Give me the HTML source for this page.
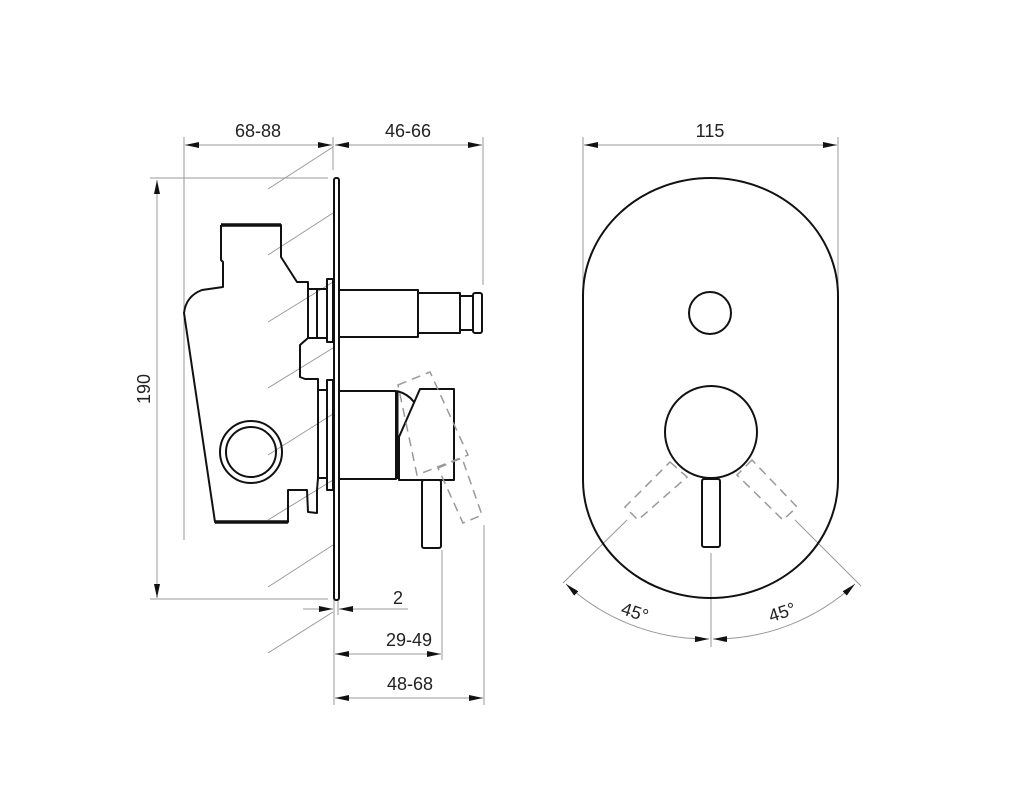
<!DOCTYPE html>
<html><head><meta charset="utf-8"><style>
html,body{margin:0;padding:0;background:#fff;}
svg{display:block;}
text{font-family:"Liberation Sans",sans-serif;font-size:18px;fill:#222;}
</style></head><body>
<svg width="1024" height="805" viewBox="0 0 1024 805" xmlns="http://www.w3.org/2000/svg">
<defs>
<marker id="a" viewBox="0 0 14 6" refX="14" refY="3" markerWidth="14" markerHeight="6" orient="auto-start-reverse" markerUnits="userSpaceOnUse"><path d="M0,0 L14,3 L0,6 Z" fill="#111"/></marker>
</defs>
<g stroke="#999" stroke-width="1" fill="none">
<line x1="184" y1="137" x2="184" y2="540"/>
<line x1="333" y1="137" x2="333" y2="170"/>
<line x1="483" y1="137" x2="483" y2="285"/>
<line x1="150" y1="178" x2="328" y2="178"/>
<line x1="150" y1="599" x2="328" y2="599"/>
<line x1="334" y1="600" x2="334" y2="705"/>
<line x1="338" y1="600" x2="338" y2="615"/>
<line x1="442" y1="550" x2="442" y2="660"/>
<line x1="484" y1="525" x2="484" y2="705"/>
<line x1="583" y1="137" x2="583" y2="290"/>
<line x1="838" y1="137" x2="838" y2="290"/>
<line x1="711" y1="553" x2="711" y2="647"/>
<line x1="627" y1="520" x2="563" y2="583"/>
<line x1="795" y1="520" x2="861" y2="586"/>
<line x1="268" y1="189" x2="333" y2="147"/>
<line x1="268" y1="255" x2="333" y2="213"/>
<line x1="268" y1="322" x2="333" y2="282"/>
<line x1="268" y1="388" x2="333" y2="348"/>
<line x1="268" y1="455" x2="333" y2="414"/>
<line x1="268" y1="520" x2="333" y2="480"/>
<line x1="268" y1="587" x2="333" y2="545"/>
<line x1="268" y1="653" x2="333" y2="612"/>
</g>
<g stroke="#999" stroke-width="1" fill="none">
<line x1="185" y1="145" x2="332" y2="145" marker-start="url(#a)" marker-end="url(#a)"/>
<line x1="335" y1="145" x2="482" y2="145" marker-start="url(#a)" marker-end="url(#a)"/>
<line x1="157" y1="180" x2="157" y2="598" marker-start="url(#a)" marker-end="url(#a)"/>
<line x1="303" y1="609" x2="333" y2="609" marker-end="url(#a)"/>
<line x1="408" y1="609" x2="339" y2="609" marker-end="url(#a)"/>
<line x1="335" y1="654" x2="441" y2="654" marker-start="url(#a)" marker-end="url(#a)"/>
<line x1="335" y1="698" x2="483" y2="698" marker-start="url(#a)" marker-end="url(#a)"/>
<line x1="584" y1="145" x2="837" y2="145" marker-start="url(#a)" marker-end="url(#a)"/>
<path d="M566,584 A207,207 0 0 0 709,639" marker-start="url(#a)" marker-end="url(#a)"/>
<path d="M855,584 A207,207 0 0 1 713,639" marker-start="url(#a)" marker-end="url(#a)"/>
</g>
<text x="258" y="137" text-anchor="middle">68-88</text>
<text x="408" y="137" text-anchor="middle">46-66</text>
<text x="710" y="137" text-anchor="middle">115</text>
<text x="150" y="389" text-anchor="middle" transform="rotate(-90 150 389)">190</text>
<text x="398" y="604" text-anchor="middle">2</text>
<text x="409" y="646" text-anchor="middle">29-49</text>
<text x="410" y="690" text-anchor="middle">48-68</text>
<text x="633" y="618" text-anchor="middle" transform="rotate(18 633 618)">45°</text>
<text x="784" y="618" text-anchor="middle" transform="rotate(-18 784 618)">45°</text>
<g stroke="#111" stroke-width="2" fill="none" stroke-linejoin="round">
<rect x="334" y="178" width="5" height="422" rx="2"/>
<path d="M221,225 L281,225 L281,257 L297,282 L308,282 L308,289 L308,338 L300,345 L300,377 L305,379 L318,379 L318,390"/>
<line x1="221" y1="225" x2="281" y2="225" stroke-width="3.5"/>
<path d="M221,225 L221,260 L223,262 L223,287 L202,290 Q186,296 184,313 L215,522 L288,522 L288,490 L307,490 L308,512 L317,513 L317,490 L318,478"/>
<line x1="215" y1="522" x2="288" y2="522" stroke-width="3.5"/>
<circle cx="251" cy="452" r="31"/>
<circle cx="251" cy="452" r="25"/>
<rect x="327" y="279" width="6" height="63"/>
<rect x="308" y="289" width="19" height="49"/>
<line x1="317" y1="289" x2="317" y2="338"/>
<rect x="339" y="290" width="79" height="47"/>
<rect x="418" y="293" width="42" height="40"/>
<rect x="460" y="296" width="13" height="34"/>
<rect x="473" y="293" width="9" height="40" rx="2"/>
<rect x="327" y="380" width="6" height="110"/>
<rect x="318" y="390" width="9" height="88"/>
<rect x="339" y="391" width="57" height="88"/>
<path d="M420,389 L454,389 L454,480 L399,480 L399,437 Z"/>
<path d="M397,391 Q408,394 414,402"/>
<line x1="397" y1="391" x2="397" y2="479" stroke-width="3"/>
<rect x="422" y="480" width="19" height="68" rx="2"/>
</g>
<g stroke="#999" stroke-width="1.5" fill="none" stroke-dasharray="9,6">
<path d="M398,385 L430,372 L468,455 L417,475 Z"/>
<path d="M438,468 L462,458 L482,515 L463,523 Z"/>
<path d="M670,462 L687,477 L638,520 L625,507 Z"/>
<path d="M752,460 L737,475 L783,520 L797,507 Z"/>
</g>
<g stroke="#111" stroke-width="2" fill="none">
<rect x="583" y="178" width="255" height="420" rx="127.5" ry="118"/>
<circle cx="710" cy="313" r="21"/>
<circle cx="711" cy="432" r="46"/>
<rect x="702" y="479" width="18" height="68" rx="2" fill="#fff"/>
</g>
</svg>
</body></html>
